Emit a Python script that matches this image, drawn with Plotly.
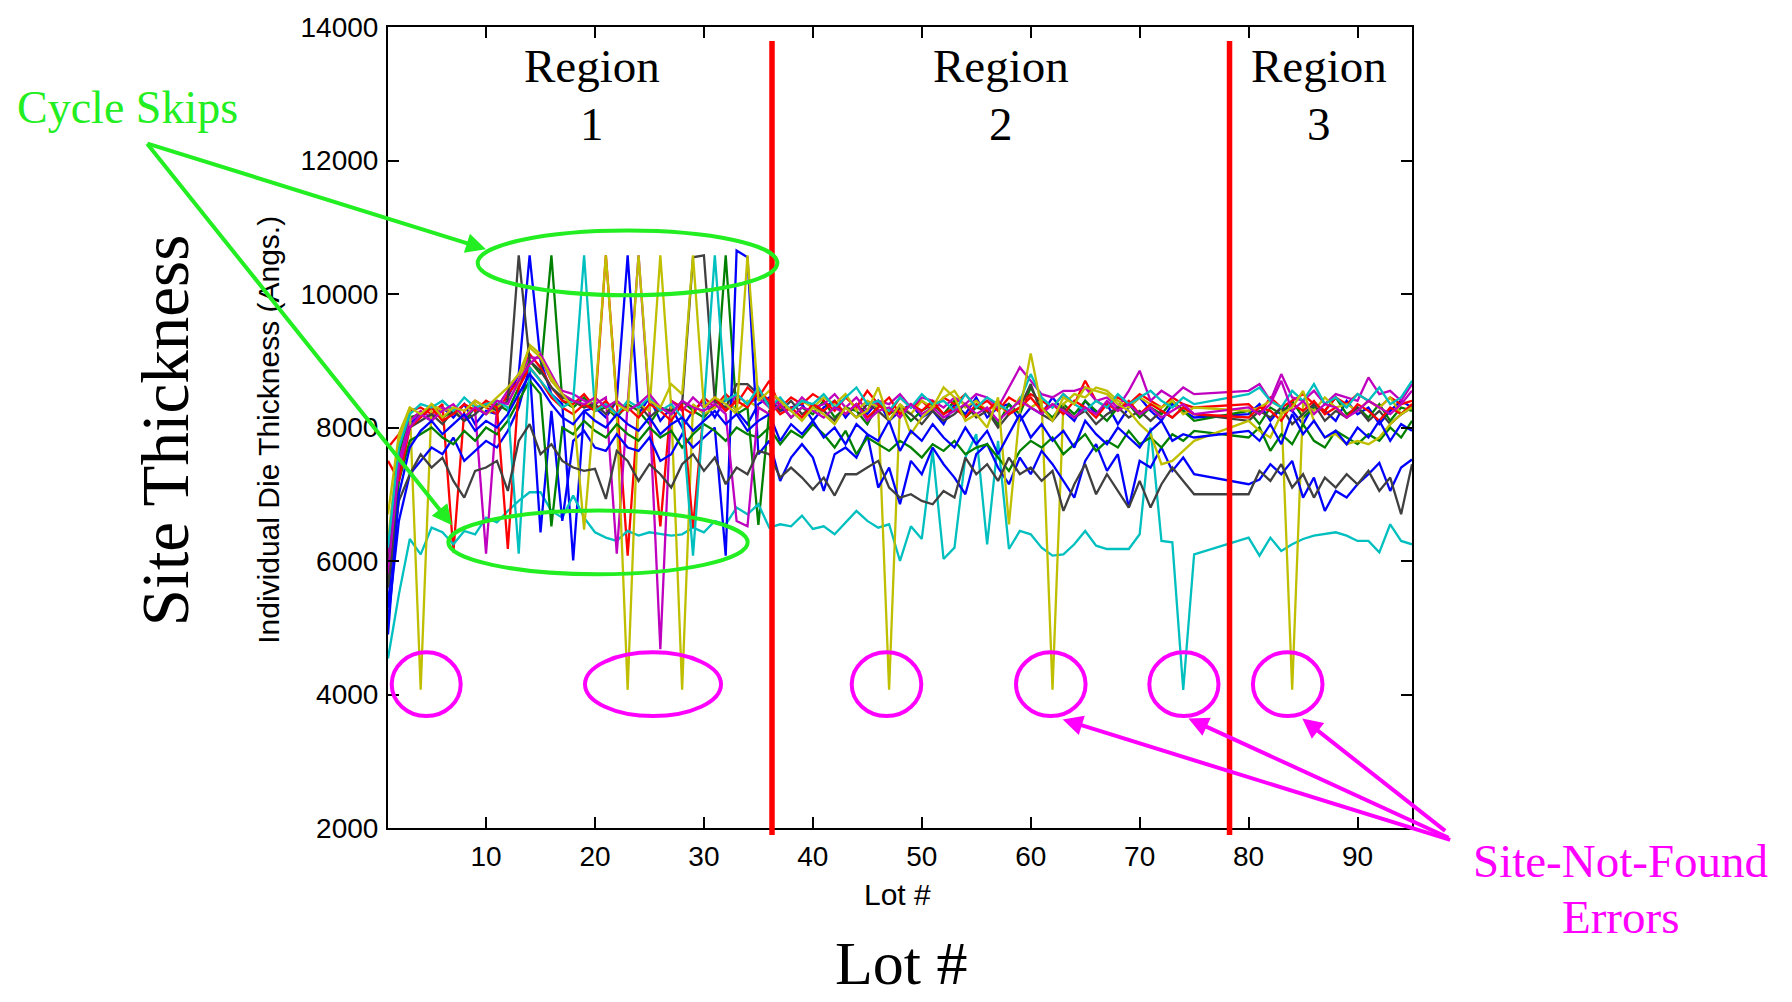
import plotly.graph_objects as go

# ---------------- data ----------------
LOTS = list(range(1, 76)) + list(range(80, 96))

BLUE_A = [
    5300, 7300, 8050, 8200, 8100, 8300, 8150, 8350, 8050, 8250,
    8200, 8450, 8800, 10580, 9000, 8500, 8350, 6010, 8250, 8300,
    8150, 8400, 10580, 8200, 8450, 8100, 8300, 8000, 8250, 8400,
    8150, 8450, 8250, 8050, 8350, 8450, 8250, 8300, 8350, 8100,
    8300, 8400, 8150, 8350, 8200, 8400, 8100, 8250, 8350, 8150,
    8250, 8050, 8350, 8200, 8450, 8150, 8300, 8350, 8100, 8300,
    8200, 8450, 8250, 8100, 8400, 8200, 8350, 8050, 8300, 8450,
    8250, 8100, 8350, 8250, 8150,
    8200, 8350, 8100, 8300, 8250, 8050, 8350, 8250, 8100, 8400,
    8200, 8300, 8050, 8250, 8400, 8300,
]
GREEN_A = [
    6000, 7600, 8150, 8200, 8300, 8150, 8250, 8100, 8300, 8200,
    8350, 8250, 8600, 9000, 8800, 10580, 8400, 8300, 8450, 8250,
    8300, 8150, 8350, 8250, 8050, 8300, 8200, 8400, 8250, 8150,
    8350, 10580, 8200, 8300, 6540, 8250, 8350, 8150, 8300, 8200,
    8400, 8150, 8300, 8250, 8050, 8350, 8200, 8300, 8100, 8250,
    8350, 8200, 8400, 8150, 8300, 8250, 8050, 8350, 8200, 8600,
    8300, 8150, 8350, 8200, 8400, 8250, 8100, 8300, 8350, 8150,
    8300, 8200, 8400, 8250, 8100,
    8250, 8050, 8300, 8200, 8400, 8150, 8300, 8250, 8450, 8200,
    8300, 8150, 8350, 8100, 8300, 8250,
]
RED_A = [
    7700, 7900, 8250, 8300, 8200, 8350, 6130, 8250, 8400, 8300,
    8200, 8500, 8700, 9100, 8900, 8600, 8400, 8350, 8500, 8300,
    10580, 8400, 6080, 8350, 8250, 6520, 8400, 8300, 8200, 8450,
    8300, 8500, 8350, 8600, 8450, 8700, 8300, 8450, 8350, 8500,
    8400, 8250, 8450, 8300, 8550, 8350, 8200, 8450, 8300, 8400,
    8250, 8450, 8350, 8500, 8300, 8400, 8250, 8450, 8350, 8500,
    8400, 8300, 8500, 8350, 8700, 8400, 8300, 8450, 8350, 8500,
    8400, 8300, 8450, 8350, 8300,
    8350, 8200, 8450, 8300, 8400, 8500, 8350, 8250, 8450, 8350,
    8500, 8400, 8300, 8450, 8350, 8400,
]
CYAN_A = [
    4540, 5500, 6330, 6100, 6500, 6430, 6250, 6450, 6400, 6650,
    6580, 6750, 6900, 7030, 7030, 6750, 6650, 6980, 6650, 6430,
    6350, 6300, 6450, 6380, 6430, 6400, 6380, 6400, 6500, 6430,
    6600, 6550, 6800, 6700, 6850, 6500, 6550, 6520, 6680, 6480,
    6520, 6400, 6580, 6750, 6600, 6500, 6550, 6000, 6520, 6330,
    7650, 6030, 6200, 7550, 7900, 6250, 7800, 6180, 6450, 6400,
    6200, 6080, 6100, 6250, 6450, 6230, 6180, 6180, 6180, 6400,
    8000, 6300, 6280, 4070, 6100,
    6350, 6080, 6350, 6150, 6250, 6330, 6380, 6400, 6430, 6380,
    6300, 6300, 6130, 6550, 6300, 6250,
]
MAGENTA_A = [
    6100, 7500, 8100, 8250, 8150, 8300, 8200, 8350, 8250, 6110,
    8300, 8550, 8800, 9050, 9040, 8700, 8550, 8500, 8400, 8350,
    8450, 6110, 8350, 10580, 8300, 4680, 8400, 8250, 8450, 8300,
    8400, 8250, 8500, 8350, 8450, 8300, 8400, 8250, 8450, 8300,
    8350, 8500, 8300, 8450, 8250, 8400, 8350, 8500, 8300, 8450,
    8400, 8300, 8450, 8350, 8500, 8450, 8300, 8600, 8900, 8700,
    8500, 8450, 8550, 8550, 8600, 8400, 8450, 8300, 8550, 8850,
    8400, 8550, 8450, 8600, 8500,
    8550, 8650, 8400, 8800, 8450, 8400, 8550, 8350, 8500, 8450,
    8400, 8750, 8500, 8550, 8400, 8650,
]
YELLOW_A = [
    6300, 7800, 8300, 4070, 8350, 8250, 8300, 8150, 8350, 8200,
    8300, 8400, 8650, 9240, 9100, 8700, 8500, 8400, 8300, 8450,
    8300, 8200, 4070, 8350, 8250, 10580, 8300, 4070, 8350, 8200,
    8300, 8450, 8250, 8400, 8300, 8200, 8350, 8250, 8400, 8300,
    8450, 8350, 8500, 8250, 8400, 8300, 4070, 8350, 8200, 8400,
    8300, 8450, 8550, 8300, 8400, 8250, 8350, 8200, 8450, 8300,
    8400, 4070, 8350, 8500, 8450, 8600, 8550, 8400, 8300, 8450,
    8350, 8300, 8400, 8200, 8300,
    8250, 8300, 8400, 8300, 4070, 8350, 8250, 8450, 8300, 8350,
    8250, 8400, 8300, 8450, 8200, 8350,
]
GRAY_A = [
    5900, 7300, 8000, 8100, 8200, 8050, 8250, 8100, 8200, 8350,
    8250, 8400, 10580, 9000, 8850, 8600, 8450, 8400, 8300, 8350,
    8200, 8400, 8250, 8350, 8150, 8300, 8250, 8350, 10550, 10580,
    8400, 8300, 8650, 8650, 8500, 8350, 8250, 8400, 8200, 8300,
    8250, 8100, 8300, 8150, 8350, 8250, 8100, 8300, 8200, 8050,
    8250, 8100, 8200, 8350, 8150, 8250, 8000, 8200, 8300, 8650,
    8200, 8100, 8300, 8150, 8250, 8050, 8200, 8300, 8150, 8250,
    8100, 8250, 8150, 8300, 8200,
    8100, 8250, 8150, 8300, 8050, 8200, 8350, 8100, 8250, 8150,
    8300, 8100, 8250, 8050, 8200, 8300,
]
BLUE_B = [
    5100, 6600, 7300, 7500, 7700, 7600, 7850, 7500, 7650, 7800,
    7700, 7950, 8300, 8900, 6430, 8250, 6600, 7800, 7950, 7700,
    7650, 7900, 7700, 7650, 7850, 7500, 7600, 7900, 7700, 7850,
    8000, 6080, 10650, 10550, 7600, 7800, 7200, 7550, 7750, 7550,
    7050, 7600, 7700, 7550, 7900, 7100, 7400, 6850, 7500, 7300,
    7700, 7450, 7250, 7000, 7600, 7750, 7400, 7150, 7550, 7300,
    7650, 7450, 7200, 6950, 7500, 7750, 7350, 7600, 6800, 7500,
    7400, 7700, 7350, 7550, 7300,
    7150, 7220, 7450, 7300, 7500, 6950, 7250, 6750, 7050, 6950,
    7150, 7300, 7470, 7050, 7400, 7520,
]
GREEN_B = [
    5700, 7200, 7800, 7900, 8000, 7850, 7750, 7950, 7800, 8000,
    7900, 8100, 8400, 8700, 8500, 6520, 8000, 7900, 8100, 7950,
    7850, 8050, 7900, 7800, 8000, 7850, 7950, 7700, 7900, 8050,
    7950, 7800, 8000, 7900, 7850, 8000, 7750, 7950, 7850, 8050,
    7900, 7700, 7950, 7600, 7850, 7750, 7650, 7800, 7700, 7550,
    7750, 7650, 7800, 7600, 7700, 7750, 7550, 7350, 7650, 7800,
    7700, 7850, 7600, 7750, 7900, 7650, 7800, 7700, 7950, 7750,
    7850, 7700, 7900, 7800, 7950,
    7850, 8000, 7650, 7900, 7750, 8050, 7800, 7700, 7950, 7850,
    7750, 7900, 7800, 8000, 7850, 8100,
]
RED_B = [
    7500, 7200, 8000, 8150, 8300, 8100, 8200, 8350, 8250, 8400,
    8300, 6180, 8600, 8900, 8700, 8450, 8300, 8200, 8350, 8250,
    8400, 8200, 8300, 8150, 8350, 8250, 8100, 8350, 6500, 8300,
    8450, 8250, 8400, 8300, 8550, 8400, 8200, 8300, 8150, 8350,
    8250, 8400, 8200, 8350, 8150, 8300, 8450, 8200, 8350, 8250,
    8400, 8200, 8300, 8150, 8350, 8250, 8400, 8200, 8300, 8450,
    8250, 8350, 8200, 8400, 8300, 8150, 8350, 8250, 8400, 8200,
    8350, 8250, 8150, 8300, 8200,
    8150, 8300, 8250, 8100, 8350, 8250, 8400, 8200, 8300, 8150,
    8350, 8250, 8100, 8300, 8200, 8350,
]
CYAN_B = [
    6200, 7700, 8200, 8350, 8300, 8400, 8250, 8450, 8300, 8350,
    8400, 8300, 6110, 8900, 8700, 8500, 8300, 8400, 10580, 8250,
    8350, 8200, 8400, 8300, 8450, 8250, 8350, 8150, 6080, 8300,
    10580, 8400, 8500, 8350, 8600, 8300, 8450, 8250, 8400, 8350,
    8500, 8300, 8450, 8600, 8350, 8400, 8250, 8450, 8300, 8500,
    8350, 8400, 8250, 8500, 8300, 8450, 8350, 8250, 8400, 8800,
    8450, 8300, 8500, 8350, 8250, 8400, 8300, 8500, 8350, 8450,
    8550, 8400, 8300, 8450, 8350,
    8500, 8600, 8400, 8300, 8550, 8400, 8650, 8350, 8450, 8300,
    8500, 8400, 8600, 8350, 8450, 8700,
]
MAGENTA_B = [
    5800, 7400, 8000, 8200, 8100, 8250, 8350, 8150, 8300, 8200,
    8400, 8350, 8700, 8950, 9100, 8800, 8500, 8400, 8350, 8450,
    8300, 8400, 8250, 8350, 8500, 8300, 8200, 8400, 8300, 8250,
    8350, 8200, 6600, 6520, 8300, 8200, 8350, 8150, 8300, 8250,
    8150, 8300, 8200, 8350, 8100, 8250, 8300, 8150, 8350, 8200,
    8300, 8150, 8250, 8350, 8200, 8300, 8100, 8250, 8400, 8300,
    8200, 8350, 8250, 8150, 8300, 8200, 8400, 8250, 8350, 8200,
    8300, 8150, 8250, 8350, 8200,
    8300, 8200, 8350, 8700, 8250, 8400, 8200, 8350, 8300, 8150,
    8250, 8400, 8300, 8200, 8350, 8550,
]
YELLOW_B = [
    6700, 7900, 8300, 8200, 8350, 8150, 8300, 8250, 8400, 8300,
    8450, 8600, 8800, 9200, 9050, 8750, 8500, 8300, 6470, 8400,
    10580, 8350, 8250, 10580, 8400, 8300, 8650, 8500, 10580, 8300,
    8450, 8350, 8200, 10580, 8400, 8550, 8400, 8250, 8100, 8300,
    8200, 8050, 8300, 8150, 8250, 8600, 8100, 8350, 7900, 8150,
    8300, 8600, 8450, 8100, 8200, 8000, 8450, 6550, 8250, 9110,
    8300, 8100, 8450, 8350, 8600, 8550, 8500, 8350, 8250, 8050,
    7900, 7450, 7500, 7650, 7800,
    8100, 7950, 7850, 8200, 8300, 8550, 8100, 7850, 7900, 7750,
    7800, 7750, 7850, 8050, 8200, 8300,
]
GRAY_B = [
    5600, 6900, 7300, 7600, 7400, 7550, 7200, 6950, 7350, 7400,
    7500, 7050, 7800, 8050, 7600, 7750, 7500, 7400, 7350, 7380,
    6930, 7650, 7500, 7200, 7450, 7300, 7100, 7450, 7600, 7350,
    7550, 7150, 7400, 7300, 7650, 7600, 7250, 7400, 7250, 7070,
    7250, 6980, 7300, 7300, 7400, 7500, 7100, 6950, 7000, 6900,
    6850, 7050, 6950, 7550, 7300, 7450, 7200, 7550, 7300, 7400,
    7200, 7350, 6750, 7150, 7450, 7000, 7300, 7050, 6800, 7200,
    6800, 7150, 7400, 7200, 7000,
    7000, 7350, 7200, 7450, 7100, 7300, 6950, 7250, 7100, 7300,
    7150, 7350, 7050, 7250, 6700, 7450,
]
BLUE_C = [
    4900, 7000, 7700, 7950, 8100, 7900, 8050, 8200, 7950, 8100,
    8000, 8200, 8500, 8800, 8600, 8350, 8150, 8050, 8250, 8100,
    8000, 8200, 8050, 7950, 8150, 7900, 8050, 8150, 7950, 8100,
    8250, 8050, 8200, 7950, 8100, 8200, 7800, 8050, 7900, 8100,
    7850, 8000, 7750, 8050, 7900, 7800, 8100, 7650, 7950, 7800,
    8050, 7850, 7700, 8000, 7750, 7950, 7600, 7900, 8200, 7850,
    8050, 7800, 7950, 7700, 8100, 7900, 7750, 8000, 7850, 7700,
    7950, 8100, 7800, 7900, 7850,
    7950, 7800, 8050, 7750, 8200, 7900, 8100, 7850, 7950, 7750,
    8000, 7850, 8100, 7800, 8050, 7950,
]

SERIES = [BLUE_A, GREEN_A, RED_A, CYAN_A, MAGENTA_A, YELLOW_A, GRAY_A,
          BLUE_B, GREEN_B, RED_B, CYAN_B, MAGENTA_B, YELLOW_B, GRAY_B, BLUE_C]

REGION_BOUNDARIES = [36.25, 78.25]
REGION_LABELS = ["1", "2", "3"]
X_TICKS = [10, 20, 30, 40, 50, 60, 70, 80, 90]
Y_TICKS = [2000, 4000, 6000, 8000, 10000, 12000, 14000]

# ---------------- styles ----------------
C_BLUE, C_GREEN, C_RED = "#0000FF", "#008000", "#FF0000"
C_CYAN, C_MAG, C_YEL, C_GRAY = "#00BFBF", "#BF00BF", "#BFBF00", "#404040"
COLORS = [C_BLUE, C_GREEN, C_RED, C_CYAN, C_MAG, C_YEL, C_GRAY,
          C_BLUE, C_GREEN, C_RED, C_CYAN, C_MAG, C_YEL, C_GRAY, C_BLUE]
ANN_GREEN = "#22EE22"
ANN_MAG = "#FF00FF"
SERIF = "Liberation Serif, Times New Roman, serif"
SANS = "Liberation Sans, Arial, sans-serif"

W, H = 1792, 1002
L, R, T, B = 388, 380, 24, 174
PW, PH = W - L - R, H - T - B


def P(px, py):
    return (px - L) / PW, (H - B - py) / PH


fig = go.Figure()
for vals, col in zip(SERIES, COLORS):
    assert len(vals) == len(LOTS)
    fig.add_trace(go.Scatter(x=LOTS, y=vals, mode="lines",
                             line=dict(color=col, width=2.3),
                             showlegend=False, hoverinfo="skip"))

shapes = []
y0p = P(0, 835)[1]
y1p = P(0, 38)[1]
for xb in REGION_BOUNDARIES:
    shapes.append(dict(type="line", xref="x", yref="paper", x0=xb, x1=xb,
                       y0=y0p, y1=y1p, line=dict(color=C_RED, width=5.5),
                       layer="above"))


def ellipse(x0, x1, ytop, ybot, col):
    a, b = P(x0, ybot)
    c, d = P(x1, ytop)
    return dict(type="circle", xref="paper", yref="paper", x0=a, x1=c,
                y0=b, y1=d, line=dict(color=col, width=4), layer="above")


shapes.append(ellipse(477.7, 777.3, 228.3, 293.3, ANN_GREEN))
shapes.append(ellipse(448.3, 747.7, 509.3, 573.3, ANN_GREEN))
for (ex0, ex1) in [(391.7, 460.7), (585, 721), (851.7, 921.3),
                   (1016, 1085.6), (1149.3, 1218.5), (1252.9, 1322.5)]:
    shapes.append(ellipse(ex0, ex1, 651.7, 715.7, ANN_MAG))

annotations = []


def text(s, px, py, size, family, color="black", angle=0, yanchor="middle"):
    x, y = P(px, py)
    annotations.append(dict(text=s, x=x, y=y, xref="paper", yref="paper",
                            xanchor="center", yanchor=yanchor,
                            showarrow=False, textangle=angle,
                            font=dict(size=size, family=family, color=color)))


def arrow(tip, tail, color):
    x, y = P(*tip)
    annotations.append(dict(text="", x=x, y=y, xref="paper", yref="paper",
                            ax=tail[0] - tip[0], ay=tail[1] - tip[1],
                            axref="pixel", ayref="pixel",
                            showarrow=True, arrowhead=2, arrowsize=1,
                            arrowwidth=4, arrowcolor=color, standoff=0))


region_x = [591.7, 1000.5, 1318.7]
for rx, lab in zip(region_x, REGION_LABELS):
    text("Region", rx, 63.1, 47, SERIF)
    text(lab, rx, 121.1, 47, SERIF)

text("Cycle Skips", 127, 104.6, 46, SERIF, ANN_GREEN)
text("Site-Not-Found", 1620.8, 860.8, 47, SERIF, ANN_MAG)
text("Errors", 1620, 917.4, 47, SERIF, ANN_MAG)
text("Lot #", 901.7, 1000, 62, SERIF, yanchor="bottom")
text("Lot #", 897.5, 894.6, 30, SANS)
text("Site Thickness", 165.7, 429, 67, SERIF, angle=-90)
text("Individual Die Thickness (Angs.)", 268.3, 428, 30, SANS, angle=-90)

arrow((486, 247), (146, 141), ANN_GREEN)
arrow((452, 524), (146, 141), ANN_GREEN)
arrow((1062.7, 719), (1451.7, 840), ANN_MAG)
arrow((1188.4, 718), (1450, 838), ANN_MAG)
arrow((1302.3, 718), (1446.7, 831.7), ANN_MAG)

axis_common = dict(showline=True, linecolor="black", linewidth=2,
                   mirror="ticks", ticks="inside", ticklen=11, tickwidth=2,
                   tickcolor="black", showgrid=False, zeroline=False,
                   tickfont=dict(family=SANS, size=28, color="black"))

fig.update_xaxes(range=[1, 95], tickvals=X_TICKS,
                 ticktext=[str(v) for v in X_TICKS],
                 ticklabelstandoff=2, **axis_common)
fig.update_yaxes(range=[2000, 14000], tickvals=Y_TICKS,
                 ticktext=[str(v) for v in Y_TICKS],
                 ticklabelstandoff=2, **axis_common)

fig.update_layout(width=W, height=H, autosize=False,
                  margin=dict(l=L, r=R, t=T, b=B, pad=0),
                  paper_bgcolor="white", plot_bgcolor="white",
                  showlegend=False, shapes=shapes, annotations=annotations)

fig.write_html("out.html", config={"displayModeBar": False},
               post_script="document.body.style.margin='0';")
